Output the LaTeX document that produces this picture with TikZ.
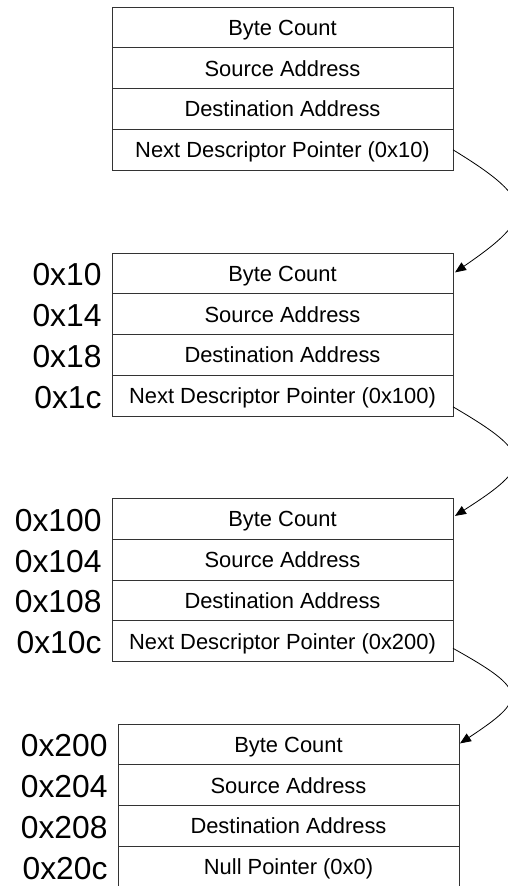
\documentclass[tikz,border=0pt]{standalone}
\usepackage{fontspec}
\setmainfont{Liberation Sans}
\usetikzlibrary{arrows.meta,calc}
\newcommand\cellfont{\fontsize{21.9}{24}\selectfont}
\newcommand\addrfont{\fontsize{31.8}{36}\selectfont}
\tikzset{
  cell/.style={draw=black!80, line width=1pt, minimum width=341pt, minimum height=40.8pt,
    inner sep=0pt, outer sep=0pt, anchor=north, font=\cellfont, text height=15.7pt, text depth=0pt},
  addr/.style={anchor=east, inner sep=0pt, outer sep=0pt, font=\addrfont},
  link/.style={line width=0.8pt, -{Triangle[length=11pt,width=9pt]}},
}
\begin{document}
\begin{tikzpicture}[x=1pt,y=-1pt]
\clip (0,0) rectangle (508,886);
% block 1
\node[cell] (b1r1) at (282.5,7) {Byte Count};
\node[cell] (b1r2) at (b1r1.south) {Source Address};
\node[cell] (b1r3) at (b1r2.south) {Destination Address};
\node[cell] (b1r4) at (b1r3.south) {Next Descriptor Pointer (0x10)};
% block 2
\node[cell] (b2r1) at (282.5,253) {Byte Count};
\node[cell] (b2r2) at (b2r1.south) {Source Address};
\node[cell] (b2r3) at (b2r2.south) {Destination Address};
\node[cell] (b2r4) at (b2r3.south) {Next Descriptor Pointer (0x100)};
\node[addr] (a2r1) at ($(b2r1.west)+(-10.5,1.5)$) {0x10};
\node[addr] (a2r2) at ($(b2r2.west)+(-10.5,1.5)$) {0x14};
\node[addr] (a2r3) at ($(b2r3.west)+(-10.5,1.5)$) {0x18};
\node[addr] (a2r4) at ($(b2r4.west)+(-10.5,1.5)$) {0x1c};
% block 3
\node[cell] (b3r1) at (282.5,498.5) {Byte Count};
\node[cell] (b3r2) at (b3r1.south) {Source Address};
\node[cell] (b3r3) at (b3r2.south) {Destination Address};
\node[cell] (b3r4) at (b3r3.south) {Next Descriptor Pointer (0x200)};
\node[addr] (a3r1) at ($(b3r1.west)+(-10.5,1.5)$) {0x100};
\node[addr] (a3r2) at ($(b3r2.west)+(-10.5,1.5)$) {0x104};
\node[addr] (a3r3) at ($(b3r3.west)+(-10.5,1.5)$) {0x108};
\node[addr] (a3r4) at ($(b3r4.west)+(-10.5,1.5)$) {0x10c};
% block 4
\node[cell] (b4r1) at (288.5,724) {Byte Count};
\node[cell] (b4r2) at (b4r1.south) {Source Address};
\node[cell] (b4r3) at (b4r2.south) {Destination Address};
\node[cell] (b4r4) at (b4r3.south) {Null Pointer (0x0)};
\node[addr] (a4r1) at ($(b4r1.west)+(-10.5,1.5)$) {0x200};
\node[addr] (a4r2) at ($(b4r2.west)+(-10.5,1.5)$) {0x204};
\node[addr] (a4r3) at ($(b4r3.west)+(-10.5,1.5)$) {0x208};
\node[addr] (a4r4) at ($(b4r4.west)+(-10.5,1.5)$) {0x20c};
% links
\draw[link] (b1r4.east) .. controls +(85,52) and +(80,-55) .. ($(b2r1.east)+(2,-1)$);
\draw[link] ($(b2r4.east)+(0,11)$) .. controls +(82,48) and +(78,-50) .. ($(b3r1.east)+(2,-3)$);
\draw[link] ($(b3r4.east)+(0,7)$) .. controls +(75,42) and +(68,-45) .. ($(b4r1.east)+(1,-1)$);
\end{tikzpicture}
\end{document}
